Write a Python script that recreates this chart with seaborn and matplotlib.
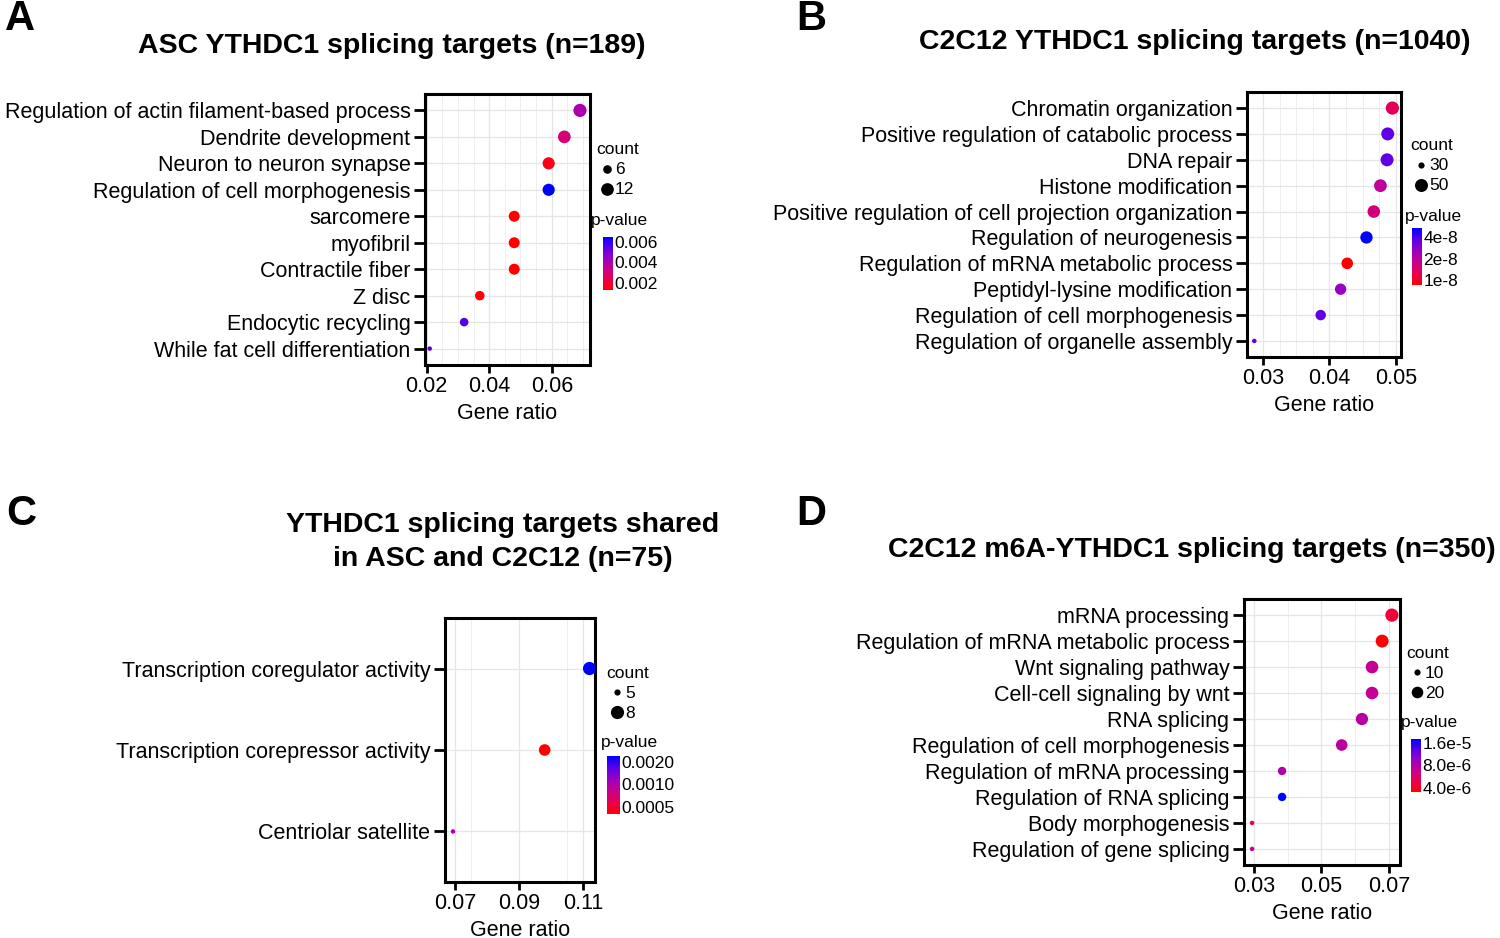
import numpy as np
import pandas as pd
import matplotlib
matplotlib.use("Agg")
import matplotlib.pyplot as plt
import seaborn as sns
from matplotlib.colors import LinearSegmentedColormap, Normalize, LogNorm
from matplotlib.ticker import FixedLocator, MultipleLocator
from matplotlib.cm import ScalarMappable

sns.set_style("white")
plt.rcParams['font.family'] = ['Liberation Sans', 'DejaVu Sans']
plt.rcParams.update({"text.color": "black", "axes.labelcolor": "black",
                     "xtick.color": "black", "ytick.color": "black"})

W, H = 1500, 938

# ---- panel A: ASC ----
a_terms = ["Regulation of actin filament-based process", "Dendrite development",
           "Neuron to neuron synapse", "Regulation of cell morphogenesis",
           "sarcomere", "myofibril", "Contractile fiber", "Z disc",
           "Endocytic recycling", "While fat cell differentiation"]
a_ratio = [0.069, 0.064, 0.059, 0.059, 0.048, 0.048, 0.048, 0.037, 0.032, 0.021]
a_count = [13, 12, 11, 11, 9, 9, 9, 7, 6, 4]
a_pval = [0.0040, 0.0030, 0.0016, 0.0065, 0.0013, 0.0013, 0.0013, 0.0014, 0.0055, 0.0055]
a_xticks = [0.02, 0.04, 0.06]
a_cbar_ticks = [0.006, 0.004, 0.002]
a_cbar_labels = ["0.006", "0.004", "0.002"]
a_count_keys = [6, 12]

# ---- panel B: C2C12 ----
b_terms = ["Chromatin organization", "Positive regulation of catabolic process",
           "DNA repair", "Histone modification",
           "Positive regulation of cell projection organization",
           "Regulation of neurogenesis", "Regulation of mRNA metabolic process",
           "Peptidyl-lysine modification", "Regulation of cell morphogenesis",
           "Regulation of organelle assembly"]
b_ratio = [0.0495, 0.0488, 0.0487, 0.0477, 0.0467, 0.0456, 0.0427, 0.0417, 0.0387, 0.0287]
b_count = [51, 50, 50, 49, 48, 47, 44, 43, 40, 30]
b_pval = [1.3e-8, 3.6e-8, 3.6e-8, 1.9e-8, 1.6e-8, 5.4e-8, 0.86e-8, 2.6e-8, 3.6e-8, 3.6e-8]
b_xticks = [0.03, 0.04, 0.05]
b_cbar_ticks = [4e-8, 2e-8, 1e-8]
b_cbar_labels = ["4e-8", "2e-8", "1e-8"]
b_count_keys = [30, 50]

# ---- panel C: shared ----
c_terms = ["Transcription coregulator activity", "Transcription corepressor activity",
           "Centriolar satellite"]
c_ratio = [0.112, 0.098, 0.0694]
c_count = [8, 7, 5]
c_pval = [0.0024, 0.0004, 0.001]
c_xticks = [0.07, 0.09, 0.11]
c_cbar_ticks = [0.002, 0.001, 0.0005]
c_cbar_labels = ["0.0020", "0.0010", "0.0005"]
c_count_keys = [5, 8]

# ---- panel D: C2C12 m6A ----
d_terms = ["mRNA processing", "Regulation of mRNA metabolic process",
           "Wnt signaling pathway", "Cell-cell signaling by wnt", "RNA splicing",
           "Regulation of cell morphogenesis", "Regulation of mRNA processing",
           "Regulation of RNA splicing", "Body morphogenesis",
           "Regulation of gene splicing"]
d_ratio = [0.0709, 0.068, 0.065, 0.065, 0.062, 0.056, 0.0383, 0.0383, 0.0294, 0.0294]
d_count = [25, 24, 23, 23, 22, 20, 13, 13, 10, 10]
d_pval = [4.5e-6, 3.6e-6, 7e-6, 7e-6, 7.5e-6, 7.5e-6, 8e-6, 1.8e-5, 5e-6, 7e-6]
d_xticks = [0.03, 0.05, 0.07]
d_cbar_ticks = [1.6e-5, 8e-6, 4e-6]
d_cbar_labels = ["1.6e-5", "8.0e-6", "4.0e-6"]
d_count_keys = [10, 20]

cmap = LinearSegmentedColormap.from_list(
    "rb", ["#ff0000", "#e8004f", "#c8008c", "#9a00c4", "#5a00e8", "#0000ff"])
DMIN, DMAX = 4.5, 13.2   # dot diameter range in pixels (ggplot-like sqrt scale)
LAB = 15.5
LEG = 12.5

fig = plt.figure(figsize=(15, 9.38), dpi=100)


def rect(l, t, r, b):
    return [l / W, 1 - b / H, (r - l) / W, (b - t) / H]


def dot_area(c, lo, hi):
    d = DMIN + (DMAX - DMIN) * np.sqrt((c - lo) / (hi - lo))
    return (d * 72 / 100) ** 2


def dot_panel(box, terms, ratio, count, pval, norm, xlim, xticks, minor):
    ax = fig.add_axes(rect(*box))
    df = pd.DataFrame({"term": terms, "ratio": ratio, "count": count, "pval": pval})
    lo, hi = min(count), max(count)
    sizes = {c: dot_area(c, lo, hi) for c in sorted(set(count))}
    sns.scatterplot(data=df, x="ratio", y="term", hue="pval", hue_norm=norm,
                    palette=cmap, size="count", sizes=sizes, linewidth=0,
                    legend=False, ax=ax, zorder=3)
    n = len(terms)
    ax.set_ylim(n - 1 + 0.62, -0.62)
    ax.set_xlim(*xlim)
    ax.xaxis.set_major_locator(FixedLocator(xticks))
    ax.xaxis.set_minor_locator(MultipleLocator(minor))
    ax.grid(which="major", color="#e6e6e6", lw=0.9)
    ax.grid(which="minor", axis="x", color="#efefef", lw=0.7)
    ax.set_axisbelow(True)
    for s in ax.spines.values():
        s.set_linewidth(2.2)
        s.set_color("black")
    ax.tick_params(which="major", width=2, color="black",
                   labelsize=LAB, left=True, bottom=True)
    ax.tick_params(axis="y", which="major", length=8, pad=2.5)
    ax.tick_params(axis="x", which="major", length=6, pad=2)
    ax.tick_params(which="minor", length=0)
    ax.set_ylabel("")
    ax.set_xlabel("Gene ratio", fontsize=LAB, labelpad=4)
    return ax


def legends(ov, x, y, keys, count, norm, ticks, labels, cbox):
    # count legend
    ov.text(x, y, "count", fontsize=LEG, va="center", ha="left")
    lo, hi = min(count), max(count)
    for i, k in enumerate(keys):
        s = max(dot_area(k, lo, hi), 20)
        yy = y + 19 + i * 20
        ov.scatter([x + 11], [yy], s=s, color="black", lw=0)
        ov.text(x + 19, yy + 1, str(k), fontsize=LEG, va="center", ha="left")
    ov.text(x - 5, y + 70, "p-value", fontsize=LEG, va="center", ha="left")
    cax = fig.add_axes(rect(*cbox))
    cb = fig.colorbar(ScalarMappable(norm=norm, cmap=cmap), cax=cax)
    cb.outline.set_visible(False)
    cb.set_ticks(ticks)
    cb.set_ticklabels(labels)
    cb.minorticks_off()
    cax.tick_params(length=3, width=1, color="white", direction="in",
                    labelsize=LEG, pad=1)


ov = fig.add_axes([0, 0, 1, 1], zorder=5)
ov.set_xlim(0, W)
ov.set_ylim(H, 0)
ov.axis("off")

# A
normA = Normalize(0.0013, 0.0065)
dot_panel((425, 94, 590, 365), a_terms, a_ratio, a_count, a_pval, normA,
          (0.0195, 0.0722), a_xticks, 0.005)
legends(ov, 596, 150, a_count_keys, a_count, normA, a_cbar_ticks, a_cbar_labels,
        (603, 237, 613, 290))

# B
normB = LogNorm(0.85e-8, 5.4e-8)
dot_panel((1247, 92, 1401, 357), b_terms, b_ratio, b_count, b_pval, normB,
          (0.0276, 0.0508), b_xticks, 0.0025)
legends(ov, 1410, 146, b_count_keys, b_count, normB, b_cbar_ticks, b_cbar_labels,
        (1412, 228, 1422, 285))

# C
normC = LogNorm(0.0004, 0.0024)
dot_panel((445, 618, 595, 882), c_terms, c_ratio, c_count, c_pval, normC,
          (0.0669, 0.1137), c_xticks, 0.015)
legends(ov, 606, 673, c_count_keys, c_count, normC, c_cbar_ticks, c_cbar_labels,
        (607, 756, 620, 814))

# D
normD = LogNorm(3.5e-6, 1.8e-5)
dot_panel((1244, 599, 1400, 865), d_terms, d_ratio, d_count, d_pval, normD,
          (0.027, 0.0733), d_xticks, 0.01)
legends(ov, 1406, 653, d_count_keys, d_count, normD, d_cbar_ticks, d_cbar_labels,
        (1411, 739, 1421, 792))

# titles and panel letters
TT = 20.5
ov.text(392, 46, "ASC YTHDC1 splicing targets (n=189)", fontsize=TT,
        weight="bold", ha="center", va="center")
ov.text(1195, 42, "C2C12 YTHDC1 splicing targets (n=1040)", fontsize=TT,
        weight="bold", ha="center", va="center")
ov.text(503, 542, "YTHDC1 splicing targets shared\nin ASC and C2C12 (n=75)",
        fontsize=TT, weight="bold", ha="center", va="center", linespacing=1.4)
ov.text(1192, 550, "C2C12 m6A-YTHDC1 splicing targets (n=350)", fontsize=TT,
        weight="bold", ha="center", va="center")
for lx, ly, lt in [(5, 19, "A"), (796, 19, "B"), (6, 514, "C"), (796, 514, "D")]:
    ov.text(lx, ly, lt, fontsize=30, weight="bold", ha="left", va="center")

fig.savefig("out.png", dpi=100)
